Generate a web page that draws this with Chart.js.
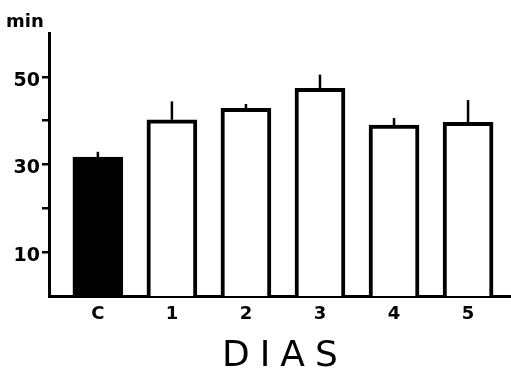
<!DOCTYPE html>
<html>
<head>
<meta charset="utf-8">
<script src="https://cdn.jsdelivr.net/npm/chart.js@4.4.1/dist/chart.umd.min.js"></script>
<style>
  html, body { margin: 0; padding: 0; background: #fff; }
  #wrap { width: 511px; height: 370px; }
</style>
</head>
<body>
<div id="wrap"><canvas id="barChart"></canvas></div>
<script>
// dias de tratamento (C = controle)
const dias = ['C', '1', '2', '3', '4', '5'];
const minutos = [31.7, 40.2, 42.8, 47.4, 39.0, 39.6];
const erroSup = [32.9, 44.4, 43.8, 50.5, 40.6, 44.7];
const yTicks = [10, 20, 30, 40, 50];
const yLabels = ['10', '', '30', '', '50'];

const fonte = "'DejaVu Sans', sans-serif";

// linhas de erro (só para cima, sem travessão)
const errorBars = {
   id: 'errorBars',
   afterDatasetsDraw(chart) {
      const { ctx, scales } = chart;
      ctx.save();
      ctx.strokeStyle = '#000';
      ctx.lineWidth = 2.5;
      minutos.forEach((v, i) => {
         const x = scales.x.getPixelForValue(i);
         ctx.beginPath();
         ctx.moveTo(x, scales.y.getPixelForValue(v));
         ctx.lineTo(x, scales.y.getPixelForValue(erroSup[i]));
         ctx.stroke();
      });
      ctx.restore();
   }
};

const extraText = {
   id: 'extraText',
   afterDraw(chart) {
      const { ctx } = chart;
      ctx.save();
      ctx.fillStyle = '#000';
      ctx.font = "bold 18px " + fonte;
      ctx.textAlign = 'left';
      ctx.textBaseline = 'alphabetic';
      ctx.fillText('min', 6, 27);
      ctx.font = "36px " + fonte;
      ctx.letterSpacing = '10px';
      ctx.textAlign = 'left';
      ctx.fillText('DIAS', 222, 366);
      ctx.restore();
   }
};

new Chart(document.getElementById('barChart').getContext('2d'), {
   type: 'bar',
   data: {
      datasets: [{
         data: minutos.map((v, i) => ({ x: i, y: v })),
         backgroundColor: dias.map(d => d === 'C' ? '#000' : '#fff'),
         borderColor: '#000',
         borderWidth: 4,
         borderSkipped: 'bottom',
         barThickness: 50
      }]
   },
   options: {
      responsive: true,
      maintainAspectRatio: false,
      animation: false,
      layout: { padding: { left: 0, right: 0, top: 33, bottom: 0 } },
      plugins: { legend: { display: false }, tooltip: { enabled: false } },
      scales: {
         x: {
            type: 'linear',
            offset: false,
            min: -0.66,
            max: 5.58,
            afterBuildTicks: axis => { axis.ticks = dias.map((d, i) => ({ value: i })); },
            afterFit: axis => { axis.height = 74; },
            grid: { display: false, drawTicks: false },
            border: { color: '#000', width: 3 },
            ticks: {
               padding: 8,
               color: '#000',
               font: { family: fonte, size: 18, weight: 'bold' },
               maxRotation: 0,
               autoSkip: false,
               callback: v => dias[v]
            }
         },
         y: {
            min: 0,
            max: 60,
            afterBuildTicks: axis => { axis.ticks = yTicks.map(v => ({ value: v })); },
            afterFit: axis => { axis.width = 49; },
            grid: { drawOnChartArea: false, tickLength: 7, color: '#000', lineWidth: 2.5 },
            border: { color: '#000', width: 3 },
            ticks: {
               padding: 2,
               labelOffset: 4,
               color: '#000',
               font: { family: fonte, size: 19, weight: 'bold' },
               callback: (v, i) => yLabels[i]
            }
         }
      }
   },
   plugins: [errorBars, extraText]
});
</script>
</body>
</html>
